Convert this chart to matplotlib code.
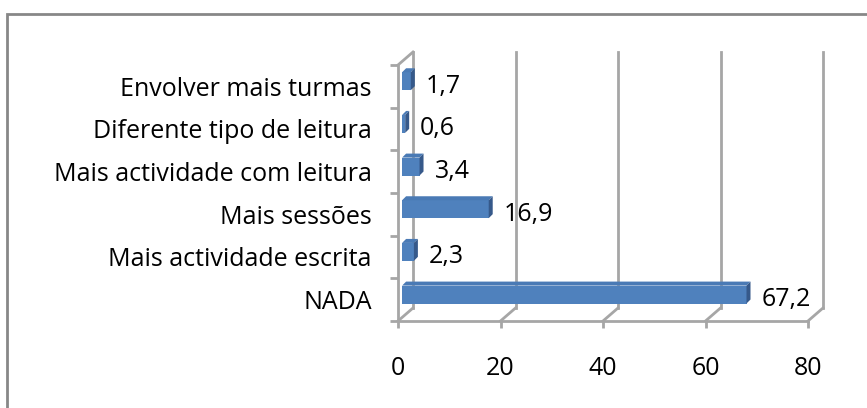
import numpy as np
import matplotlib
matplotlib.use("Agg")
import matplotlib.pyplot as plt
from matplotlib.patches import Polygon, Rectangle

# categories listed bottom -> top
categories = ["NADA", "Mais actividade escrita", "Mais sessões",
              "Mais actividade com leitura", "Diferente tipo de leitura",
              "Envolver mais turmas"]
values = [67.2, 2.3, 16.9, 3.4, 0.6, 1.7]
value_labels = ["67,2", "2,3", "16,9", "3,4", "0,6", "1,7"]
x_ticks = [0, 20, 40, 60, 80]

plt.rcParams["font.family"] = ["Open Sans", "DejaVu Sans"]
FS = 18

W, H = 867, 408
fig = plt.figure(figsize=(W / 100, H / 100), dpi=100)

# outer chart frame (only left and top edges visible)
fig.patches.append(Rectangle((7 / W, -0.1), 1.2, (H - 14) / H + 0.1,
                             transform=fig.transFigure, fill=False,
                             edgecolor="#878787", linewidth=2))

ax = fig.add_axes([398 / W, 87 / H, 410 / W, 256 / H])
ax.set_xlim(0, 80)
ax.set_ylim(-0.5, len(categories) - 0.5)
ax.patch.set_visible(False)
for s in ax.spines.values():
    s.set_visible(False)

px_x = 80 / 410          # data units per pixel
px_y = 6 / 256
wall_dx, wall_dy = 15 * px_x, 13 * px_y   # depth of the back wall
grid = "#a6a6a6"
ytop = len(categories) - 0.5

# back wall gridlines + floor diagonals
for t in x_ticks:
    ax.plot([t + wall_dx, t + wall_dx], [-0.5 + wall_dy, ytop + wall_dy],
            color=grid, lw=2, clip_on=False, zorder=1)
    ax.plot([t, t + wall_dx], [-0.5, -0.5 + wall_dy],
            color=grid, lw=2, clip_on=False, zorder=1)
# left wall front edge + top slant
ax.plot([0, 0], [-0.5, ytop], color=grid, lw=2, clip_on=False, zorder=1)
ax.plot([0, wall_dx], [ytop, ytop + wall_dy], color=grid, lw=2, clip_on=False, zorder=1)
# floor front edge
ax.plot([0, 80], [-0.5, -0.5], color=grid, lw=2, clip_on=False, zorder=1)

# bars with fake 3D faces
y = np.arange(len(categories))
bar_off = 0.8
bar_shift, bar_h = 0.12, 0.42
bdx, bdy = 4 * px_x, 4 * px_y
front, top, side = "#4f81bd", "#4a7ab5", "#36598a"
ax.barh(y + bar_shift, values, height=bar_h, left=bar_off, color=front, zorder=3)
for yi, v in zip(y, values):
    y0, y1 = yi + bar_shift - bar_h / 2, yi + bar_shift + bar_h / 2
    x1 = bar_off + v
    ax.add_patch(Polygon([(bar_off, y1), (x1, y1), (x1 + bdx, y1 + bdy),
                          (bar_off + bdx, y1 + bdy)], closed=True,
                         facecolor=top, edgecolor="none", zorder=3))
    ax.add_patch(Polygon([(x1, y0), (x1, y1), (x1 + bdx, y1 + bdy),
                          (x1 + bdx, y0 + bdy)], closed=True,
                         facecolor=side, edgecolor="none", zorder=3))

for yi, v, lab in zip(y, values, value_labels):
    ax.annotate(lab, (bar_off + v + bdx, yi), xytext=(11, 0),
                textcoords="offset pixels", va="center", ha="left",
                fontsize=FS, color="black", zorder=4)

# axes ticks and labels
ax.set_xticks(x_ticks)
ax.set_xticklabels([str(t) for t in x_ticks], fontsize=FS)
ax.tick_params(axis="x", length=5, width=2, color=grid, pad=20)
ax.set_yticks(y)
ax.set_yticklabels(categories, fontsize=FS)
ax.tick_params(axis="y", which="major", length=0, pad=19)
ax.set_yticks(np.arange(-0.5, len(categories)), minor=True)
ax.tick_params(axis="y", which="minor", length=6, width=2, color=grid)

fig.savefig("out.png", dpi=100)
